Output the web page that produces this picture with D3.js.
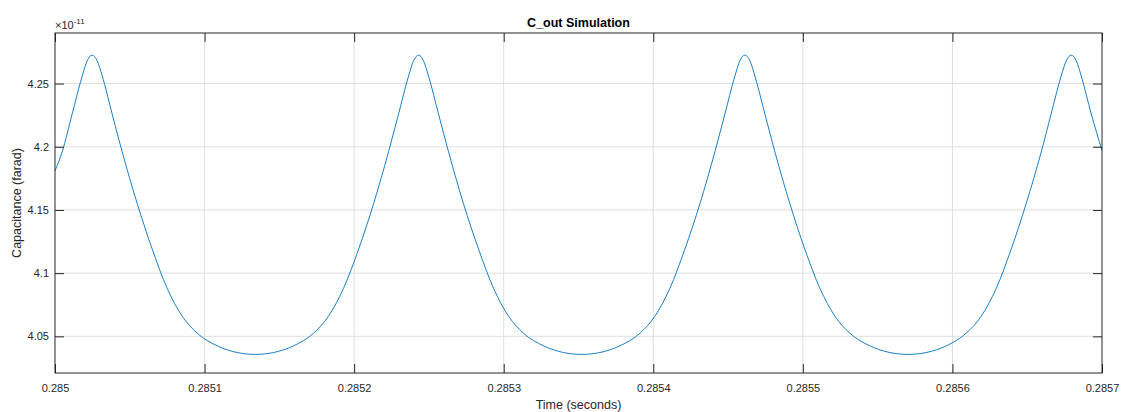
<!DOCTYPE html>
<html>
<head>
<meta charset="utf-8">
<script src="https://cdnjs.cloudflare.com/ajax/libs/d3/7.8.5/d3.min.js"></script>
<style>
  body { margin: 0; background: #fff; }
  svg { display: block; font-family: "Liberation Sans", Arial, sans-serif; }
  .tick text { fill: #262626; font-size: 11px; }
  .grid line { stroke: #dfdfdf; stroke-width: 1; }
</style>
</head>
<body>
<svg id="chart" width="1125" height="412"></svg>
<script>
// time (s)
var timeSec = [
  0.2850000, 0.2850048, 0.2850115, 0.2850182, 0.2850215, 0.2850249, 0.2850282, 0.2850316, 0.2850382, 0.2850449,
  0.2850550, 0.2850650, 0.2850750, 0.2850850, 0.2850951, 0.2851084, 0.2851218, 0.2851340, 0.2851461, 0.2851595,
  0.2851729, 0.2851829, 0.2851929, 0.2852030, 0.2852130, 0.2852230, 0.2852297, 0.2852364, 0.2852397, 0.2852431,
  0.2852464, 0.2852497, 0.2852564, 0.2852631, 0.2852731, 0.2852832, 0.2852932, 0.2853032, 0.2853132, 0.2853266,
  0.2853400, 0.2853521, 0.2853643, 0.2853777, 0.2853911, 0.2854011, 0.2854111, 0.2854211, 0.2854312, 0.2854412,
  0.2854479, 0.2854546, 0.2854579, 0.2854612,
  0.2854646, 0.2854679, 0.2854746, 0.2854813, 0.2854913, 0.2855013, 0.2855114, 0.2855214, 0.2855314, 0.2855448,
  0.2855582, 0.2855703, 0.2855825, 0.2855959, 0.2856092, 0.2856193, 0.2856293, 0.2856393, 0.2856493, 0.2856594,
  0.2856660, 0.2856727, 0.2856761, 0.2856794,
  0.2856828, 0.2856861, 0.2856928, 0.2857000
];
// capacitance, in units of 1e-11 farad
var capE11 = [
  4.181, 4.196, 4.226, 4.256, 4.268, 4.2725, 4.268, 4.256, 4.226, 4.196,
  4.155, 4.119, 4.088, 4.066, 4.0525, 4.0425, 4.0372, 4.0357, 4.0372, 4.0425,
  4.0525, 4.066, 4.088, 4.119, 4.155, 4.196, 4.226, 4.256, 4.268, 4.2725,
  4.268, 4.256, 4.226, 4.196, 4.155, 4.119, 4.088, 4.066, 4.0525, 4.0425,
  4.0372, 4.0357, 4.0372, 4.0425, 4.0525, 4.066, 4.088, 4.119, 4.155, 4.196,
  4.226, 4.256, 4.268, 4.2725,
  4.268, 4.256, 4.226, 4.196, 4.155, 4.119, 4.088, 4.066, 4.0525, 4.0425,
  4.0372, 4.0357, 4.0372, 4.0425, 4.0525, 4.066, 4.088, 4.119, 4.155, 4.196,
  4.226, 4.256, 4.268, 4.2725,
  4.268, 4.256, 4.226, 4.197
];
var xTicks = [0.285, 0.2851, 0.2852, 0.2853, 0.2854, 0.2855, 0.2856, 0.2857];
var yTicks = [4.05, 4.1, 4.15, 4.2, 4.25];
var xDomain = [0.285, 0.2857];
var yDomain = [4.021, 4.29];

var svg = d3.select("#chart");
var mLeft = 55, mTop = 33, width = 1047, height = 340;

var x = d3.scaleLinear().domain(xDomain).range([0, width]);
var y = d3.scaleLinear().domain(yDomain).range([height, 0]);

var g = svg.append("g").attr("transform", "translate(" + mLeft + "," + mTop + ")");

// grid
g.append("g").attr("class", "grid")
  .selectAll("line").data(xTicks.slice(1, -1)).enter().append("line")
    .attr("x1", function(d) { return x(d); }).attr("x2", function(d) { return x(d); })
    .attr("y1", 0).attr("y2", height);
g.append("g").attr("class", "grid")
  .selectAll("line").data(yTicks).enter().append("line")
    .attr("y1", function(d) { return y(d); }).attr("y2", function(d) { return y(d); })
    .attr("x1", 0).attr("x2", width);

// the trace
var line = d3.line()
  .x(function(d, i) { return x(timeSec[i]); })
  .y(function(d) { return y(d); })
  .curve(d3.curveMonotoneX);

g.append("path")
  .datum(capE11)
  .attr("fill", "none")
  .attr("stroke", "#0072BD")
  .attr("stroke-width", 0.9)
  .attr("d", line);

// axes, ticks pointing inwards
var fmtX = function(d) { return String(+d.toFixed(4)); };
var fmtY = function(d) { return String(+d.toFixed(2)); };

var xAxis = g.append("g").attr("transform", "translate(0," + height + ")")
  .call(d3.axisBottom(x).tickValues(xTicks).tickFormat(fmtX).tickSizeInner(-9).tickSizeOuter(0).tickPadding(11));
var xTop = g.append("g")
  .call(d3.axisTop(x).tickValues(xTicks).tickFormat("").tickSizeInner(-9).tickSizeOuter(0));
var yAxis = g.append("g")
  .call(d3.axisLeft(y).tickValues(yTicks).tickFormat(fmtY).tickSizeInner(-9).tickSizeOuter(0).tickPadding(6));
var yRight = g.append("g").attr("transform", "translate(" + width + ",0)")
  .call(d3.axisRight(y).tickValues(yTicks).tickFormat("").tickSizeInner(-9).tickSizeOuter(0));

[xAxis, xTop, yAxis, yRight].forEach(function(a) {
  a.select(".domain").remove();
  a.selectAll(".tick line").attr("stroke", "#262626");
});

g.append("rect")
  .attr("width", width).attr("height", height)
  .attr("fill", "none").attr("stroke", "#262626").attr("stroke-width", 1);

// labels
svg.append("text")
  .attr("x", mLeft + width / 2).attr("y", 27)
  .attr("text-anchor", "middle")
  .style("font-size", "12.5px").style("font-weight", "bold").style("fill", "#000")
  .text("C_out Simulation");

svg.append("text")
  .attr("x", mLeft + width / 2).attr("y", 409)
  .attr("text-anchor", "middle")
  .style("font-size", "12.5px").style("fill", "#262626")
  .text("Time (seconds)");

svg.append("text")
  .attr("transform", "translate(21," + (mTop + height / 2) + ") rotate(-90)")
  .attr("text-anchor", "middle")
  .style("font-size", "12.5px").style("fill", "#262626")
  .text("Capacitance (farad)");

var expo = svg.append("text")
  .attr("x", mLeft).attr("y", 29)
  .style("font-size", "11px").style("fill", "#262626");
expo.append("tspan").text("\u00d710");
expo.append("tspan").attr("dy", -5).style("font-size", "8px").text("-11");
</script>
</body>
</html>
